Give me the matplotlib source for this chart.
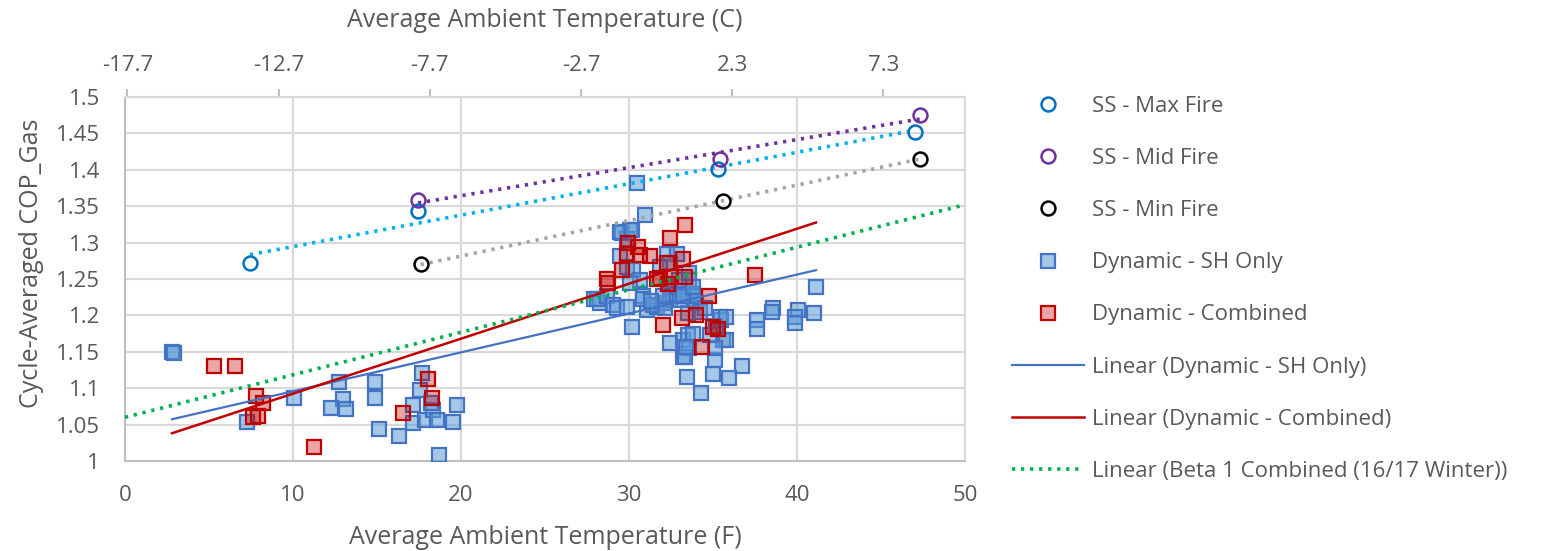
import numpy as np
import matplotlib
matplotlib.use("Agg")
import matplotlib.pyplot as plt
from matplotlib.lines import Line2D

plt.rcParams['font.family'] = ['Open Sans', 'DejaVu Sans']

# ---------------- data ----------------
ss_max_x = [7.44, 17.44, 35.3, 47.0]
ss_max_y = [1.272, 1.343, 1.401, 1.452]
ss_mid_x = [17.44, 35.4, 47.3]
ss_mid_y = [1.358, 1.415, 1.475]
ss_min_x = [17.6, 35.6, 47.3]
ss_min_y = [1.270, 1.357, 1.415]

sh_x = [2.8, 2.9, 7.24, 10.06, 12.74, 13.0, 13.13, 12.26, 14.86, 14.86, 15.1, 16.33,
        17.12, 17.16, 17.66, 17.56, 17.86, 18.35, 18.55, 18.69, 19.5, 19.77, 18.2,
        30.46, 30.95, 29.56, 30.06, 29.9,
        41.13, 41.03, 40.08, 39.88, 39.88, 38.55, 38.49, 37.6, 37.6, 36.7, 35.1, 35.0,
        35.95, 33.43, 34.27, 33.23, 32.44, 30.16, 35.5, 35.6, 35.2, 35.8, 35.1, 34.8, 35.4,
        33.23, 33.5, 33.6, 33.33, 33.5, 33.8, 33.4,
        27.9, 28.27, 28.08, 28.67, 29.07, 29.27, 29.86, 30.85, 31.05, 31.65, 32.04, 32.44,
        30.85, 31.45, 32.14, 33.04, 33.6, 34.0, 32.6,
        32.24, 32.84, 32.44, 31.85, 29.46, 29.86, 30.26, 30.65, 30.06, 33.6, 33.8, 32.44,
        33.04, 32.04, 33.9, 33.23, 35.8, 33.0, 33.6, 33.8, 29.46, 30.16, 31.3, 34.2, 34.5]
sh_y = [1.150, 1.149, 1.054, 1.086, 1.108, 1.085, 1.072, 1.073, 1.108, 1.087, 1.044, 1.034,
        1.052, 1.077, 1.121, 1.098, 1.056, 1.070, 1.056, 1.008, 1.054, 1.077, 1.080,
        1.382, 1.338, 1.313, 1.317, 1.305,
        1.239, 1.203, 1.207, 1.198, 1.189, 1.210, 1.205, 1.194, 1.182, 1.130, 1.139, 1.120,
        1.114, 1.116, 1.094, 1.143, 1.162, 1.184, 1.194, 1.166, 1.185, 1.166, 1.155, 1.173, 1.198,
        1.166, 1.173, 1.155, 1.143, 1.203, 1.175, 1.157,
        1.223, 1.217, 1.223, 1.226, 1.214, 1.210, 1.212, 1.226, 1.207, 1.212, 1.217, 1.221,
        1.223, 1.214, 1.210, 1.221, 1.230, 1.217, 1.230,
        1.285, 1.285, 1.272, 1.267, 1.281, 1.267, 1.262, 1.249, 1.244, 1.249, 1.230, 1.239,
        1.226, 1.226, 1.226, 1.226, 1.198, 1.249, 1.258, 1.239, 1.315, 1.317, 1.220, 1.205, 1.210]

comb_x = [5.32, 6.55, 7.8, 8.23, 7.6, 7.9, 11.25, 16.53, 18.04, 18.29,
          33.33, 32.44, 29.96, 30.56, 31.25, 29.86, 30.65, 29.56, 28.67, 28.77, 32.24, 33.23,
          31.85, 32.44, 33.33, 31.65, 32.34, 37.5, 34.78, 32.0, 33.13, 33.99, 35.0, 35.3, 34.33]
comb_y = [1.130, 1.130, 1.089, 1.080, 1.060, 1.062, 1.019, 1.066, 1.112, 1.086,
          1.324, 1.307, 1.299, 1.294, 1.281, 1.285, 1.283, 1.262, 1.250, 1.244, 1.272, 1.278,
          1.251, 1.253, 1.253, 1.250, 1.243, 1.255, 1.226, 1.187, 1.197, 1.201, 1.184, 1.182, 1.157]

# Linear trendline coefficients as shown on the chart (intercept, slope)
sh_trend = [1.0424, 0.005342]
comb_trend = [1.0170, 0.007551]
beta1_trend = [1.060, 0.00584]   # Beta 1 Combined (16/17 Winter), series itself not shown
beta1_range = [0, 50]

y_ticks = [1.0, 1.05, 1.1, 1.15, 1.2, 1.25, 1.3, 1.35, 1.4, 1.45, 1.5]
y_labels = ['1', '1.05', '1.1', '1.15', '1.2', '1.25', '1.3', '1.35', '1.4', '1.45', '1.5']
x_ticks = [0, 10, 20, 30, 40, 50]
c_ticks = [-17.7, -12.7, -7.7, -2.7, 2.3, 7.3]
c_labels = ['-17.7', '-12.7', '-7.7', '-2.7', '2.3', '7.3']

labels = ['SS - Max Fire', 'SS - Mid Fire', 'SS - Min Fire', 'Dynamic - SH Only',
          'Dynamic - Combined', 'Linear (Dynamic - SH Only)', 'Linear (Dynamic - Combined)',
          'Linear (Beta 1 Combined (16/17 Winter))']

# ---------------- style ----------------
TXT = '#595959'
GRID = '#D9D9D9'
AXC = '#BFBFBF'
FS = 16
FT = 18
c_max, c_mid, c_min = '#0070C0', '#7030A0', '#000000'
c_max_t, c_mid_t, c_min_t = '#00B0F0', '#7030A0', '#A5A5A5'
blue_edge, blue_face = '#4472C4', (0.357, 0.608, 0.835, 0.55)
red_edge, red_face = '#C00000', (0.753, 0.0, 0.0, 0.35)
dot = (0, (0.9, 1.6))

fig = plt.figure(figsize=(15.41, 5.51), dpi=100)
ax = fig.add_axes([125/1541, 1-461/551, 840/1541, 364/551])

ax.set_xlim(0, 50)
ax.set_ylim(1.0, 1.5)
ax.set_xticks(x_ticks)
ax.set_yticks(y_ticks, labels=y_labels)
ax.grid(True, color=GRID, lw=1.5, zorder=0)
ax.set_axisbelow(True)
for s in ['top', 'right']:
    ax.spines[s].set_color(GRID)
    ax.spines[s].set_linewidth(1.5)
for s in ['left', 'bottom']:
    ax.spines[s].set_color(AXC)
    ax.spines[s].set_linewidth(1.5)
ax.tick_params(axis='both', length=0, labelsize=FS, labelcolor=TXT)
ax.tick_params(axis='y', pad=18)
ax.tick_params(axis='x', pad=17)

ms = 9.5
ax.plot(sh_x, sh_y, ls='none', marker='s', ms=ms, mec=blue_edge, mfc=blue_face, mew=1.6, zorder=3)
ax.plot(comb_x, comb_y, ls='none', marker='s', ms=ms, mec=red_edge, mfc=red_face, mew=1.6, zorder=4)

# SS trendlines (dotted, least-squares through the SS points)
for xs, ys, col in [(ss_max_x, ss_max_y, c_max_t), (ss_mid_x, ss_mid_y, c_mid_t), (ss_min_x, ss_min_y, c_min_t)]:
    p = np.polyfit(xs, ys, 1)
    xx = np.array([min(xs), max(xs)])
    ax.plot(xx, np.polyval(p, xx), color=col, ls=dot, lw=2.6, zorder=5)

for xs, ys, col in [(ss_max_x, ss_max_y, c_max), (ss_mid_x, ss_mid_y, c_mid), (ss_min_x, ss_min_y, c_min)]:
    ax.plot(xs, ys, ls='none', marker='o', ms=10, mfc='none', mec=col, mew=1.8, zorder=6)

# Dynamic trendlines
xr = np.array([min(min(sh_x), min(comb_x)), max(max(sh_x), max(comb_x))])
ax.plot(xr, sh_trend[0] + sh_trend[1] * xr, color='#4472C4', lw=1.6, zorder=7)
ax.plot(xr, comb_trend[0] + comb_trend[1] * xr, color='#C00000', lw=1.8, zorder=7)
xb = np.array(beta1_range)
ax.plot(xb, beta1_trend[0] + beta1_trend[1] * xb, color='#00B050', ls=dot, lw=2.6, zorder=7)

ax.set_xlabel('Average Ambient Temperature (F)', fontsize=FT, color=TXT)
ax.set_ylabel('Cycle-Averaged COP_Gas', fontsize=FT, color=TXT)
ax.xaxis.set_label_coords(0.5, -(538-461)/364)
ax.xaxis.label.set_va('center')
ax.yaxis.set_label_coords((32-125)/840, (461-263)/364)
ax.yaxis.label.set_va('center')

secax = ax.secondary_xaxis('top', functions=(lambda f: (f - 32) * 5 / 9, lambda c: c * 9 / 5 + 32))
secax.set_xticks(c_ticks, labels=c_labels)
secax.tick_params(axis='x', direction='out', length=6, width=1.5, color=AXC, labelsize=FS, labelcolor=TXT, pad=9)
secax.spines['top'].set_color(AXC)
secax.spines['top'].set_linewidth(1.5)
ax.text(0.5, 1 + (97-20)/364, 'Average Ambient Temperature (C)', transform=ax.transAxes,
        ha='center', va='center', fontsize=FT, color=TXT)

handles = [
    Line2D([], [], ls='none', marker='o', ms=10, mfc='none', mec=c_max, mew=1.8),
    Line2D([], [], ls='none', marker='o', ms=10, mfc='none', mec=c_mid, mew=1.8),
    Line2D([], [], ls='none', marker='o', ms=10, mfc='none', mec=c_min, mew=1.8),
    Line2D([], [], ls='none', marker='s', ms=ms, mec=blue_edge, mfc=blue_face, mew=1.6),
    Line2D([], [], ls='none', marker='s', ms=ms, mec=red_edge, mfc=red_face, mew=1.6),
    Line2D([], [], color='#4472C4', lw=1.6),
    Line2D([], [], color='#C00000', lw=1.8),
    Line2D([], [], color='#00B050', ls=dot, lw=2.6),
]
leg = fig.legend(handles, labels, loc='upper left', bbox_to_anchor=(1012/1541, 1-96/551),
                 frameon=False, fontsize=FS, handlelength=3.24, handletextpad=0.36,
                 labelspacing=1.40, borderaxespad=0, borderpad=0)
for t in leg.get_texts():
    t.set_color(TXT)

fig.savefig('out.png', dpi=100)
